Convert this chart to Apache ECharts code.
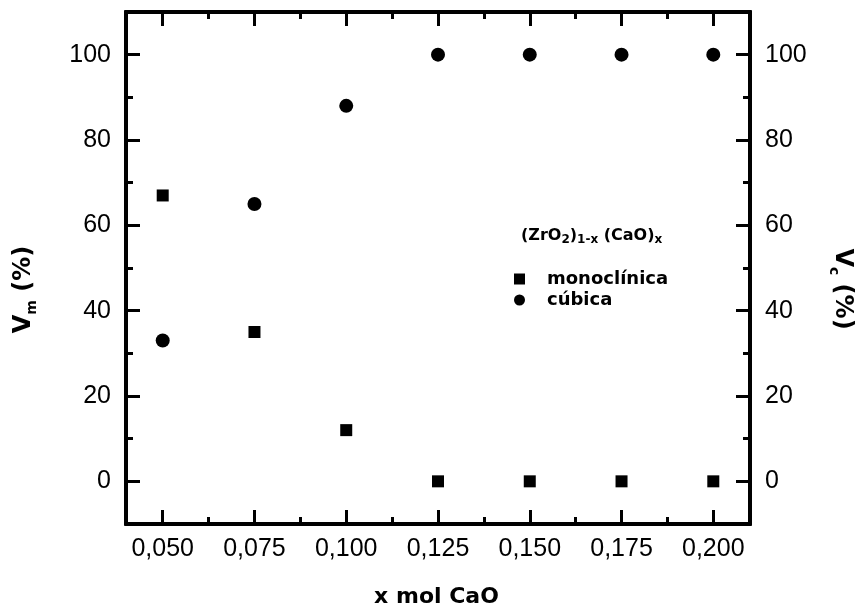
<!DOCTYPE html>
<html>
<head>
<meta charset="utf-8">
<script src="https://cdn.jsdelivr.net/npm/echarts@6/dist/echarts.min.js"></script>
<style>
  html, body { margin: 0; padding: 0; background: #fff; }
  #chart { width: 857px; height: 610px; }
</style>
</head>
<body>
<div id="chart"></div>
<script>
// Phase fractions of (ZrO2)1-x (CaO)x versus CaO content
const xMol = [0.050, 0.075, 0.100, 0.125, 0.150, 0.175, 0.200];
const monoclinica = [67, 35, 12, 0, 0, 0, 0];
const cubica = [33, 65, 88, 100, 100, 100, 100];

// Tick positions and labels
const xTicks = [0.050, 0.075, 0.100, 0.125, 0.150, 0.175, 0.200];
const xTickLabels = ['0,050', '0,075', '0,100', '0,125', '0,150', '0,175', '0,200'];
const xMinorTicks = [0.0625, 0.0875, 0.1125, 0.1375, 0.1625, 0.1875];
const yTicks = [0, 20, 40, 60, 80, 100];
const yTickLabels = ['0', '20', '40', '60', '80', '100'];
const yMinorTicks = [10, 30, 50, 70, 90];

const X_MIN = 0.04, X_MAX = 0.21;
const Y_MIN = -10, Y_MAX = 110;

const INK = '#000';
const labelFont = { fontFamily: 'Liberation Sans, Arial, sans-serif', fontSize: 25, color: INK };
const boldFont = 'DejaVu Sans, sans-serif';

function xAxisDef(position, ticks, tickLen, withLabels) {
  return {
    type: 'value', position: position, min: X_MIN, max: X_MAX,
    axisLine: { show: true, onZero: false, lineStyle: { color: INK, width: 4 } },
    axisTick: { show: true, inside: true, length: tickLen, customValues: ticks,
      lineStyle: { color: INK, width: 3 } },
    axisLabel: withLabels ? Object.assign({
      show: true, margin: 13, customValues: xTicks,
      formatter: v => xTickLabels[xTicks.findIndex(t => Math.abs(t - v) < 1e-9)]
    }, labelFont) : { show: false },
    splitLine: { show: false }
  };
}

function yAxisDef(position, ticks, tickLen, withLabels) {
  return {
    type: 'value', position: position, min: Y_MIN, max: Y_MAX,
    axisLine: { show: true, onZero: false, lineStyle: { color: INK, width: 4 } },
    axisTick: { show: true, inside: true, length: tickLen, customValues: ticks,
      lineStyle: { color: INK, width: 3 } },
    axisLabel: withLabels ? Object.assign({
      show: true, margin: 15, customValues: yTicks,
      formatter: v => yTickLabels[yTicks.indexOf(Math.round(v))]
    }, labelFont) : { show: false },
    splitLine: { show: false }
  };
}

const chart = echarts.init(document.getElementById('chart'), null, { renderer: 'canvas' });

chart.setOption({
  animation: false,
  backgroundColor: '#fff',
  grid: { left: 126, right: 107, top: 12, bottom: 86, containLabel: false },
  xAxis: [
    xAxisDef('bottom', xTicks, 14, true),
    xAxisDef('bottom', xMinorTicks, 7, false),
    xAxisDef('top', xTicks, 14, false),
    xAxisDef('top', xMinorTicks, 7, false)
  ],
  yAxis: [
    yAxisDef('left', yTicks, 14, true),
    yAxisDef('left', yMinorTicks, 7, false),
    yAxisDef('right', yTicks, 14, true),
    yAxisDef('right', yMinorTicks, 7, false)
  ],
  legend: {
    data: ['monoclínica', 'cúbica'],
    orient: 'vertical', left: 509, top: 265,
    itemWidth: 11, itemHeight: 11, itemGap: 3,
    itemStyle: { opacity: 1 },
    textStyle: { fontFamily: boldFont, fontWeight: 'bold', fontSize: 18, color: INK,
      padding: [0, 0, 0, 17] }
  },
  series: [
    {
      name: 'monoclínica', type: 'scatter', symbol: 'rect', symbolSize: 12,
      xAxisIndex: 0, yAxisIndex: 0,
      itemStyle: { color: INK, opacity: 1 },
      data: xMol.map((x, i) => [x, monoclinica[i]])
    },
    {
      name: 'cúbica', type: 'scatter', symbol: 'circle', symbolSize: 14,
      xAxisIndex: 0, yAxisIndex: 0,
      itemStyle: { color: INK, opacity: 1 },
      data: xMol.map((x, i) => [x, cubica[i]])
    }
  ],
  graphic: [
    { // left axis title: V_m (%)
      type: 'text', x: 24, y: 289.5, rotation: Math.PI / 2,
      style: {
        text: '{b|V}{s|m}{b| (%)}', align: 'center', verticalAlign: 'middle',
        rich: {
          b: { fontFamily: boldFont, fontWeight: 'bold', fontSize: 24, lineHeight: 30, fill: INK },
          s: { fontFamily: boldFont, fontWeight: 'bold', fontSize: 14, lineHeight: 14, verticalAlign: 'bottom', fill: INK }
        }
      }
    },
    { // right axis title: V_c (%)
      type: 'text', x: 842, y: 289, rotation: -Math.PI / 2,
      style: {
        text: '{b|V}{s|c}{b| (%)}', align: 'center', verticalAlign: 'middle',
        rich: {
          b: { fontFamily: boldFont, fontWeight: 'bold', fontSize: 24, lineHeight: 30, fill: INK },
          s: { fontFamily: boldFont, fontWeight: 'bold', fontSize: 14, lineHeight: 14, verticalAlign: 'bottom', fill: INK }
        }
      }
    },
    { // x axis title
      type: 'text', x: 436.5, y: 597.5,
      style: {
        text: 'x mol CaO', align: 'center', verticalAlign: 'middle',
        fontFamily: boldFont, fontWeight: 'bold', fontSize: 22, fill: INK
      }
    },
    { // legend heading: (ZrO2)1-x (CaO)x
      type: 'text', x: 521, y: 235.5,
      style: {
        text: '{b|(ZrO}{s|2}{b|)}{s|1-x}{b| (CaO)}{s|x}', align: 'left', verticalAlign: 'middle',
        rich: {
          b: { fontFamily: boldFont, fontWeight: 'bold', fontSize: 16, lineHeight: 20, fill: INK },
          s: { fontFamily: boldFont, fontWeight: 'bold', fontSize: 12, lineHeight: 12, verticalAlign: 'bottom', fill: INK }
        }
      }
    }
  ]
});
</script>
</body>
</html>
